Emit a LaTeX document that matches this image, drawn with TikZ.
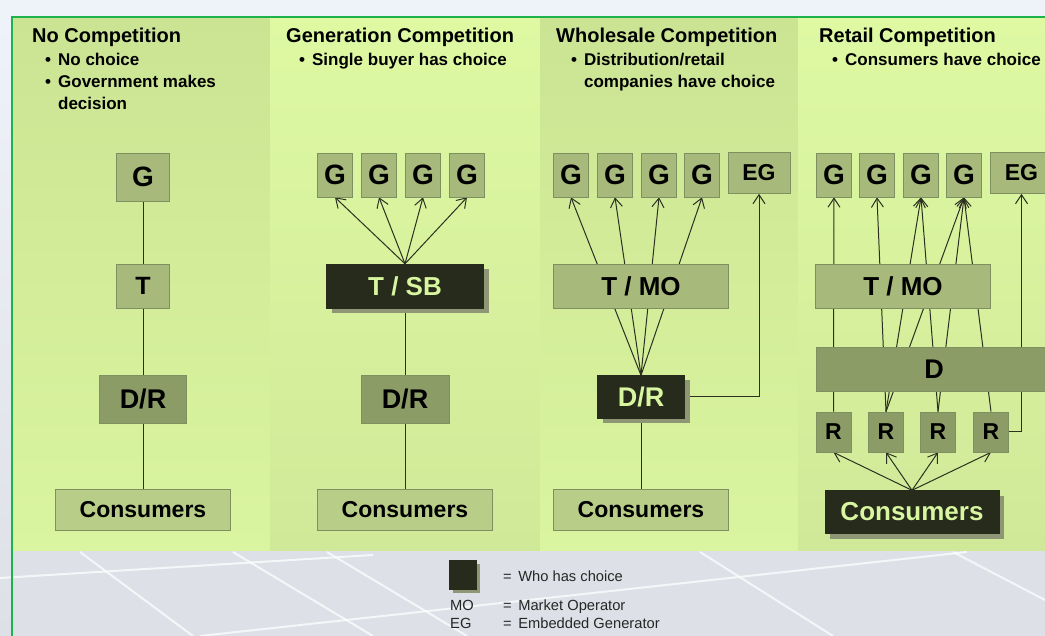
\documentclass[tikz,border=0pt]{standalone}
\usepackage{fontspec}
\setmainfont{Liberation Sans}
\usetikzlibrary{arrows.meta,shadows}
\pgfdeclarelayer{backdrop}
\pgfdeclarelayer{wires}
\pgfsetlayers{backdrop,wires,main}

\definecolor{panelA}{HTML}{CBE494}
\definecolor{panelAb}{HTML}{DAF59F}
\definecolor{panelB}{HTML}{DEF9A2}
\definecolor{panelBb}{HTML}{D0E999}
\definecolor{boxlight}{HTML}{A7BA7B}
\definecolor{boxpale}{HTML}{B8CE88}
\definecolor{boxmid}{HTML}{8C9C66}
\definecolor{boxdark}{HTML}{262B1C}
\definecolor{boxedge}{HTML}{7E9060}
\definecolor{shadowc}{HTML}{8F9676}
\definecolor{wire}{HTML}{2B3020}
\definecolor{choicetext}{HTML}{D8F5A0}
\definecolor{frame}{HTML}{1DB34C}
\definecolor{photo}{HTML}{DDE1E7}
\definecolor{sky}{HTML}{EEF2F9}

\begin{document}
\begin{tikzpicture}[x=1pt, y=-1pt,
   box/.style={draw=boxedge, line width=0.7pt, inner sep=0pt, text=black},
   gbox/.style={box, fill=boxlight, minimum width=35pt, minimum height=44pt,
                font=\bfseries\fontsize{28}{28}\selectfont},
   egbox/.style={box, fill=boxlight, minimum width=62pt, minimum height=41pt,
                font=\bfseries\fontsize{23}{23}\selectfont},
   wide/.style={box, fill=boxlight, minimum width=175pt, minimum height=44pt,
                font=\bfseries\fontsize{26}{26}\selectfont},
   dbox/.style={box, fill=boxmid, font=\bfseries\fontsize{27}{27}\selectfont},
   rbox/.style={box, fill=boxmid, minimum width=35pt, minimum height=40pt,
                font=\bfseries\fontsize{23}{23}\selectfont},
   cbox/.style={box, fill=boxpale, minimum width=175pt, minimum height=41pt,
                font=\bfseries\fontsize{23}{23}\selectfont},
   choice/.style={draw=boxdark, fill=boxdark, text=choicetext, inner sep=0pt,
                drop shadow={shadow xshift=#1, shadow yshift=-#1, fill=shadowc, opacity=1}},
   choice/.default=5pt,
   wire/.style={draw=wire, line width=1pt},
   arr/.style={wire, -{Straight Barb[length=9pt, width=12pt]}},
   head/.style={anchor=base west, inner sep=0pt, font=\bfseries\fontsize{20}{24}\selectfont},
   bullets/.style={anchor=base west, inner sep=0pt, font=\bfseries\fontsize{17}{22}\selectfont},
   legend/.style={anchor=base west, inner sep=0pt, text=black!85, font=\fontsize{14.7}{17}\selectfont}]

\useasboundingbox (0,0) rectangle (1045,636);

% backdrop
\begin{pgfonlayer}{backdrop}
   \fill[photo] (0,0) rectangle (1045,636);
   \fill[sky] (0,0) rectangle (1045,17);
   \shade[top color=sky, bottom color=photo] (0,17) rectangle (12,636);
   \begin{scope}[white, line width=2pt, opacity=0.7]
      \draw (0,578) -- (373,555);
      \draw (200,636) -- (967,552);
      \draw (80,552) -- (193,636);
      \draw (233,552) -- (373,636);
      \draw (327,552) -- (467,636);
      \draw (700,552) -- (833,636);
      \draw (953,552) -- (1045,600);
   \end{scope}
   \shade[top color=panelA, bottom color=panelAb] (12,17) rectangle (270,550);
   \shade[top color=panelB, bottom color=panelBb] (270,17) rectangle (540,550);
   \shade[top color=panelA, bottom color=panelAb] (540,17) rectangle (798,550);
   \shade[top color=panelB, bottom color=panelBb] (798,17) rectangle (1045,550);
   \draw[frame, line width=2pt] (12,636) -- (12,17) -- (1045,17);
\end{pgfonlayer}

% headings
\node[head] (h1) at (32,43) {No Competition};
\node[bullets] (b1) at (45,66) {\begin{tabular}[t]{@{}l@{\hspace{7pt}}l@{}}
   \textbullet & No choice\\ \textbullet & Government makes\\ & decision\end{tabular}};
\node[head] (h2) at (286,43) {Generation Competition};
\node[bullets] (b2) at (299,66) {\begin{tabular}[t]{@{}l@{\hspace{7pt}}l@{}}
   \textbullet & Single buyer has choice\end{tabular}};
\node[head] (h3) at (556,43) {Wholesale Competition};
\node[bullets] (b3) at (571,66) {\begin{tabular}[t]{@{}l@{\hspace{7pt}}l@{}}
   \textbullet & Distribution/retail\\ & companies have choice\end{tabular}};
\node[head] (h4) at (819,43) {Retail Competition};
\node[bullets] (b4) at (832,66) {\begin{tabular}[t]{@{}l@{\hspace{7pt}}l@{}}
   \textbullet & Consumers have choice\end{tabular}};

% no competition
\node[gbox, minimum width=53pt, minimum height=48pt] (g1) at (143,177) {G};
\node[gbox, minimum width=53pt, minimum height=44pt,
      font=\bfseries\fontsize{25}{25}\selectfont] (t1) at (143,286) {T};
\node[dbox, minimum width=87pt, minimum height=48pt] (dr1) at (143,399) {D/R};
\node[cbox] (c1) at (143,510) {Consumers};

% generation competition
\node[gbox] (g2a) at (335,175) {G};
\node[gbox] (g2b) at (379,175) {G};
\node[gbox] (g2c) at (423,175) {G};
\node[gbox] (g2d) at (467,175) {G};
\node[choice, minimum width=157pt, minimum height=44pt,
      font=\bfseries\fontsize{26}{26}\selectfont] (tsb) at (405,286) {T / SB};
\node[dbox, minimum width=88pt, minimum height=48pt] (dr2) at (405,399) {D/R};
\node[cbox] (c2) at (405,510) {Consumers};

% wholesale competition
\node[gbox] (g3a) at (571,175) {G};
\node[gbox] (g3b) at (615,175) {G};
\node[gbox] (g3c) at (659,175) {G};
\node[gbox] (g3d) at (702,175) {G};
\node[egbox] (eg3) at (759,173) {EG};
\node[wide] (tmo3) at (641,286) {T / MO};
\node[choice, minimum width=87pt, minimum height=43pt,
      font=\bfseries\fontsize{27}{27}\selectfont] (dr3) at (641,397) {D/R};
\node[cbox] (c3) at (641,510) {Consumers};

% retail competition
\node[gbox] (g4a) at (834,175) {G};
\node[gbox] (g4b) at (877,175) {G};
\node[gbox] (g4c) at (921,175) {G};
\node[gbox] (g4d) at (964,175) {G};
\node[egbox] (eg4) at (1021.5,173) {EG};
\node[wide] (tmo4) at (903,286) {T / MO};
\node[dbox, minimum width=236pt, minimum height=44pt] (d4) at (934,369) {D};
\node[rbox] (r4a) at (833.5,432) {R};
\node[rbox] (r4b) at (886,432) {R};
\node[rbox] (r4c) at (938,432) {R};
\node[rbox] (r4d) at (991,432) {R};
\node[choice, minimum width=174pt, minimum height=43pt,
      font=\bfseries\fontsize{26}{26}\selectfont] (c4) at (912,512) {Consumers};

% legend
\node[choice=3pt, minimum width=27pt, minimum height=29pt] (key) at (463,575) {};
\node[legend] (k1) at (503,581) {= \,Who has choice};
\node[legend] (k2) at (450,610) {MO};
\node[legend] (k3) at (503,610) {= \,Market Operator};
\node[legend] (k4) at (450,628) {EG};
\node[legend] (k5) at (503,628) {= \,Embedded Generator};

% connectors
\begin{pgfonlayer}{wires}
   \draw[wire] (g1) -- (t1) -- (dr1) -- (c1);

   \draw[arr] (tsb.north) -- (g2a.south);
   \draw[arr] (tsb.north) -- (g2b.south);
   \draw[arr] (tsb.north) -- (g2c.south);
   \draw[arr] (tsb.north) -- (g2d.south);
   \draw[wire] (tsb) -- (dr2) -- (c2);

   \draw[arr] (dr3.north) -- (g3a.south);
   \draw[arr] (dr3.north) -- (g3b.south);
   \draw[arr] (dr3.north) -- (g3c.south);
   \draw[arr] (dr3.north) -- (g3d.south);
   \draw[arr] (dr3.east) -| (eg3.south);
   \draw[wire] (dr3) -- (c3);

   \draw[arr] (r4a.north) -- (g4a.south);
   \draw[arr] (r4b.north) -- (g4b.south);
   \draw[arr] (r4b.north) -- (g4c.south);
   \draw[arr] (r4b.north) -- (g4d.south);
   \draw[arr] (r4c.north) -- (g4c.south);
   \draw[arr] (r4c.north) -- (g4d.south);
   \draw[arr] (r4d.north) -- (g4d.south);
   \draw[arr] (r4d.east) -| (eg4.south);
   \draw[arr] (c4.north) -- (r4a.south);
   \draw[arr] (c4.north) -- (r4b.south);
   \draw[arr] (c4.north) -- (r4c.south);
   \draw[arr] (c4.north) -- (r4d.south);
\end{pgfonlayer}

\end{tikzpicture}
\end{document}
